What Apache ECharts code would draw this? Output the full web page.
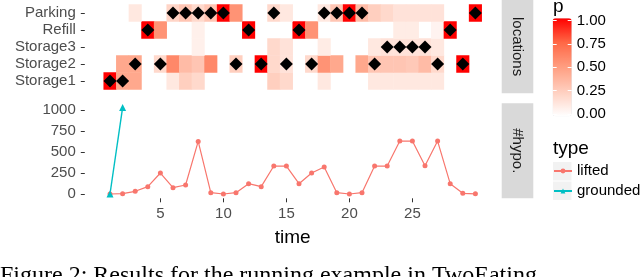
<!DOCTYPE html>
<html><head><meta charset="utf-8">
<script src="https://cdn.jsdelivr.net/npm/echarts@6/dist/echarts.min.js"></script>
<style>html,body{margin:0;padding:0;background:#fff}#c{width:640px;height:277px}</style>
</head><body><div id="c"></div>
<script>
// ---- data ----
const times = [1,2,3,4,5,6,7,8,9,10,11,12,13,14,15,16,17,18,19,20,21,22,23,24,25,26,27,28,29,30];
const locations = ['Storage1','Storage2','Storage3','Refill','Parking'];
// probability p per time step, one array per location
const pStorage1 = [1,.45,.45,0,0,.12,.25,.2,0,0,0,0,0,.25,.2,0,0,.12,0,0,0,.12,.12,.12,.12,.12,.12,0,0,0];
const pStorage2 = [0,.45,.45,0,.2,.6,.35,.3,.6,0,.25,0,1,.2,.15,0,.2,.55,.45,0,.45,.3,.3,.3,.28,.35,.2,0,1,0];
const pStorage3 = [0,0,0,0,0,0,0,.08,0,0,0,0,0,.2,.15,0,0,.1,0,0,0,.12,.15,.15,.15,.15,.12,0,0,0];
const pRefill   = [0,0,0,1,.55,0,0,.08,0,0,0,1,0,0,0,1,.55,0,0,0,0,0,0,.1,.1,0,.06,1,0,0];
const pParking  = [0,0,.12,0,0,.22,.3,.2,.3,1,.55,0,0,.2,.12,0,0,.12,.3,1,.35,.25,.2,.15,.15,.15,.15,0,0,1];
// diamond markers: time steps per location
const dStorage1 = [1,2];
const dStorage2 = [3,5,11,13,15,17,22,27,29];
const dStorage3 = [23,24,25,26];
const dRefill   = [4,12,16,28];
const dParking  = [6,7,8,9,10,14,18,19,20,21,30];
// #hypo.
const hypoLifted   = [0,4,32,87,250,75,107,627,16,0,16,123,87,333,333,123,250,321,16,0,16,333,333,631,631,337,631,123,8,2];
const groundedTime = [1,2];
const hypoGrounded = [0,1030];
const hypoTicks = [0,250,500,750,1000];
const timeTicks = [5,10,15,20,25];

// ---- build ----
const pRows = [pStorage1,pStorage2,pStorage3,pRefill,pParking];
const dRows = [dStorage1,dStorage2,dStorage3,dRefill,dParking];
const heat = [];
pRows.forEach((row,ri)=>row.forEach((p,ti)=>{ if(p>0) heat.push([ti,ri,p]); }));
const diamonds = [];
dRows.forEach((row,ri)=>row.forEach(t=>diamonds.push([times.indexOf(t),ri])));
const lifted = times.map((t,i)=>[t,hypoLifted[i]]);
const grounded = groundedTime.map((t,i)=>[t,hypoGrounded[i]]);

const FONT = 'Liberation Sans';
const axisLab = {color:'#4D4D4D', fontSize:15, fontFamily:FONT};
const tick = {show:true, length:4, lineStyle:{color:'#333333', width:1}};

const chart = echarts.init(document.getElementById('c'), null, {renderer:'canvas'});
chart.setOption({
  animation:false,
  backgroundColor:'#ffffff',
  textStyle:{fontFamily:FONT},
  grid:[
    {left:103.7, width:378, top:4.5, height:85},
    {left:84.8, width:415.8, top:103.3, height:95},
    {left:552.7, width:19, top:20.7, height:93.3}
  ],
  xAxis:[
    {gridIndex:0, type:'category', data:times, show:false},
    {gridIndex:1, type:'value', min:-1, max:32,
      axisLine:{show:false, onZero:false}, splitLine:{show:false},
      axisTick:Object.assign({customValues:timeTicks}, tick),
      axisLabel:Object.assign({customValues:timeTicks, margin:8}, axisLab),
      name:'time', nameLocation:'middle', nameGap:30,
      nameTextStyle:{fontSize:19, color:'#000', fontFamily:FONT}},
    {gridIndex:2, type:'value', show:false}
  ],
  yAxis:[
    {gridIndex:0, type:'category', data:locations, offset:18.9,
      axisLine:{show:false}, splitLine:{show:false},
      axisTick:Object.assign({alignWithLabel:true, interval:0}, tick),
      axisLabel:Object.assign({margin:9, interval:0}, axisLab)},
    {gridIndex:1, type:'value', min:-51.5, max:1081.5,
      axisLine:{show:false, onZero:false}, splitLine:{show:false},
      axisTick:Object.assign({customValues:hypoTicks}, tick),
      axisLabel:Object.assign({customValues:hypoTicks, margin:9, formatter:v=>String(v)}, axisLab)},
    {gridIndex:2, type:'value', min:0, max:1, interval:0.25, position:'right', z:10,
      axisLine:{show:false, onZero:false}, splitLine:{show:false},
      axisTick:{show:true, inside:true, length:4, lineStyle:{color:'#ffffff', width:1}},
      axisLabel:{formatter:v=>v.toFixed(2), margin:5, color:'#000', fontSize:15, fontFamily:FONT}},
    {gridIndex:2, type:'value', min:0, max:1, interval:0.25, position:'left', z:10,
      axisLine:{show:false, onZero:false}, splitLine:{show:false}, axisLabel:{show:false},
      axisTick:{show:true, inside:true, length:4, lineStyle:{color:'#ffffff', width:1}}}
  ],
  visualMap:{type:'continuous', min:0, max:1, dimension:2, seriesIndex:0,
    inRange:{color:['#FFFFFF','#FFCFBF','#FF9E81','#FF6846','#FF0000']},
    calculable:false, hoverLink:false, orient:'vertical',
    itemWidth:19, itemHeight:98, left:552.7, top:18.2, padding:0},
  legend:{data:['lifted','grounded'], orient:'vertical', left:553, top:163, padding:0,
    itemWidth:18, itemHeight:6, itemGap:4,
    textStyle:{fontSize:15, color:'#000', fontFamily:FONT, lineHeight:16}},
  graphic:[
    {type:'rect', shape:{x:501.7, y:0, width:31.6, height:93.3}, style:{fill:'#D9D9D9'}, z:0},
    {type:'text', x:517.5, y:46.6, rotation:-Math.PI/2,
      style:{text:'locations', fill:'#1A1A1A', font:'15px "Liberation Sans"', align:'center', verticalAlign:'middle'}},
    {type:'rect', shape:{x:501.7, y:103.3, width:31.6, height:95}, style:{fill:'#D9D9D9'}, z:0},
    {type:'text', x:517.5, y:150.8, rotation:-Math.PI/2,
      style:{text:'#hypo.', fill:'#1A1A1A', font:'15px "Liberation Sans"', align:'center', verticalAlign:'middle'}},
    {type:'text', x:553, y:7, style:{text:'p', fill:'#000', font:'19px "Liberation Sans"', align:'left', verticalAlign:'middle'}},
    {type:'text', x:553, y:149, style:{text:'type', fill:'#000', font:'19px "Liberation Sans"', align:'left', verticalAlign:'middle'}},
    {type:'rect', shape:{x:553, y:162, width:18.5, height:18.5}, style:{fill:'#F2F2F2'}, z:0},
    {type:'rect', shape:{x:553, y:181.5, width:18.5, height:18.5}, style:{fill:'#F2F2F2'}, z:0},
    {type:'text', x:0, y:264, style:{text:'Figure 2: Results for the running example in TwoEating', fill:'#000', font:'24px "Liberation Serif"', align:'left', verticalAlign:'top'}}
  ],
  series:[
    {type:'heatmap', xAxisIndex:0, yAxisIndex:0, data:heat, itemStyle:{borderWidth:0}, emphasis:{disabled:true}},
    {type:'scatter', xAxisIndex:0, yAxisIndex:0, data:diamonds, symbol:'diamond', symbolSize:[13,13],
      itemStyle:{color:'#000', opacity:1}, z:5},
    {name:'lifted', type:'line', xAxisIndex:1, yAxisIndex:1, data:lifted, symbol:'circle', symbolSize:5,
      lineStyle:{color:'#F8766D', width:1.2}, itemStyle:{color:'#F8766D'}},
    {name:'grounded', type:'line', xAxisIndex:1, yAxisIndex:1, data:grounded, symbol:'triangle', symbolSize:7,
      lineStyle:{color:'#00BFC4', width:1.4}, itemStyle:{color:'#00BFC4'}}
  ]
});
</script></body></html>
